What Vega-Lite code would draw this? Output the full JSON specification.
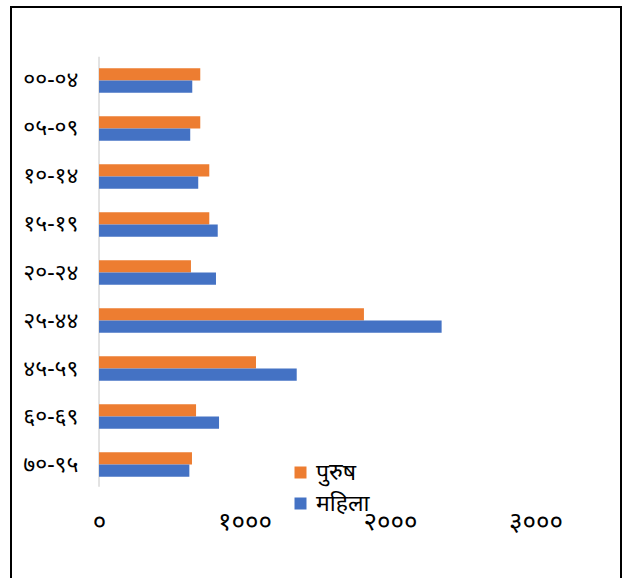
{
  "$schema": "https://vega.github.io/schema/vega-lite/v6.json",
  "width": 610,
  "height": 575,
  "autosize": {"type": "none"},
  "padding": {"left": 11, "top": 7, "right": 11, "bottom": 0},
  "background": "white",
  "config": {
    "view": {"stroke": "#000000", "strokeWidth": 2},
    "font": "Noto Sans",
    "axis": {"labelColor": "#000000", "labelFont": "Noto Sans"},
    "legend": {"labelFont": "Noto Sans"}
  },
  "layer": [
    {
      "data": {"values": [{"a": 1}]},
      "mark": {"type": "rule", "color": "#d9d9d9", "strokeWidth": 1.5},
      "encoding": {
        "x": {"datum": 0, "type": "quantitative"},
        "y": {"datum": 0, "type": "quantitative", "scale": {"domain": [0, 1], "range": [49.7, 479.7], "nice": false, "zero": false}, "axis": null},
        "y2": {"datum": 1}
      }
    },
    {
      "data": {
        "values": [
          {"age": "००-०४", "sex": "पुरुष", "value": 696},
          {"age": "००-०४", "sex": "महिला", "value": 641},
          {"age": "०५-०९", "sex": "पुरुष", "value": 696},
          {"age": "०५-०९", "sex": "महिला", "value": 627},
          {"age": "१०-१४", "sex": "पुरुष", "value": 758},
          {"age": "१०-१४", "sex": "महिला", "value": 682},
          {"age": "१५-१९", "sex": "पुरुष", "value": 758},
          {"age": "१५-१९", "sex": "महिला", "value": 816},
          {"age": "२०-२४", "sex": "पुरुष", "value": 632},
          {"age": "२०-२४", "sex": "महिला", "value": 804},
          {"age": "२५-४४", "sex": "पुरुष", "value": 1821},
          {"age": "२५-४४", "sex": "महिला", "value": 2355},
          {"age": "४५-५९", "sex": "पुरुष", "value": 1079},
          {"age": "४५-५९", "sex": "महिला", "value": 1359},
          {"age": "६०-६९", "sex": "पुरुष", "value": 667},
          {"age": "६०-६९", "sex": "महिला", "value": 825},
          {"age": "७०-९५", "sex": "पुरुष", "value": 639},
          {"age": "७०-९५", "sex": "महिला", "value": 621}
        ]
      },
      "mark": {"type": "bar"},
      "encoding": {
        "x": {
          "field": "value", "type": "quantitative",
          "scale": {"domain": [-605, 3588], "nice": false, "zero": false},
          "axis": {
            "orient": "bottom", "offset": -61, "values": [0, 1000, 2000, 3000],
            "domain": false, "ticks": false, "grid": false, "labelPadding": 0,
            "labelBaseline": "middle", "labelFontSize": 26, "title": null,
            "labelExpr": "datum.value == 0 ? '०' : datum.value == 1000 ? '१०००' : datum.value == 2000 ? '२०००' : '३०००'"
          }
        },
        "y": {
          "field": "age", "type": "nominal", "sort": null,
          "scale": {"paddingInner": 0.49, "paddingOuter": 0, "range": [61.25, 469.75]},
          "axis": {
            "orient": "left", "offset": -88, "domain": false, "ticks": false, "grid": false,
            "labelPadding": 21, "labelFontSize": 23, "title": null
          }
        },
        "yOffset": {"field": "sex", "type": "nominal", "sort": ["पुरुष", "महिला"], "scale": {"paddingInner": 0, "paddingOuter": 0}},
        "color": {
          "field": "sex", "type": "nominal",
          "scale": {"domain": ["पुरुष", "महिला"], "range": ["#ED7D31", "#4472C4"]},
          "legend": {
            "title": null, "orient": "none", "legendX": 278, "legendY": 454,
            "symbolType": "square", "symbolSize": 144, "symbolStrokeWidth": 0,
            "labelFontSize": 23, "rowPadding": 7, "padding": 0, "labelColor": "#000000"
          }
        }
      }
    }
  ],
  "resolve": {"scale": {"y": "independent"}}
}
